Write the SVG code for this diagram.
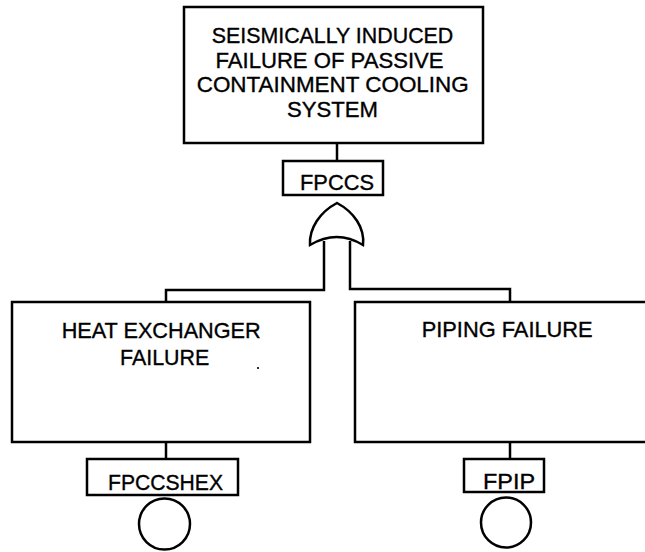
<svg xmlns="http://www.w3.org/2000/svg" width="645" height="552" viewBox="0 0 645 552">
<style>
.box{fill:#fff;stroke:#000;stroke-width:2.5}
.ln{fill:none;stroke:#000;stroke-width:2.5}
.t{font-family:"Liberation Sans",Arial,sans-serif;font-size:22px;fill:#000;stroke:#000;stroke-width:0.35}
</style>
<rect width="645" height="552" fill="#fff"/>
<g id="connectors">
<path class="ln" d="M337,143 V161"/>
<path class="ln" d="M324,241 V290 H166 V302"/>
<path class="ln" d="M350,241 V289 H510 V302"/>
<path class="ln" d="M166,442 V459"/>
<path class="ln" d="M510,442 V459"/>
</g>
<g id="top-event">
<rect class="box" x="184" y="7" width="299" height="136"/>
<text class="t" x="211.7" y="43" textLength="241.6" lengthAdjust="spacingAndGlyphs">SEISMICALLY INDUCED</text>
<text class="t" x="215.5" y="67.5" textLength="228" lengthAdjust="spacingAndGlyphs">FAILURE OF PASSIVE</text>
<text class="t" x="196.7" y="92" textLength="272" lengthAdjust="spacingAndGlyphs">CONTAINMENT COOLING</text>
<text class="t" x="287" y="116.5" textLength="91" lengthAdjust="spacingAndGlyphs">SYSTEM</text>
</g>
<g id="FPCCS">
<rect class="box" x="283" y="161" width="100" height="34"/>
<text class="t" x="300" y="190" textLength="74" lengthAdjust="spacingAndGlyphs">FPCCS</text>
</g>
<g id="or-gate">
<path class="ln" d="M310,245 C309,228 320,212 337,203 C354,212 365,228 363,245 Q337,229 310,245 Z"/>
</g>
<g id="heat-exchanger">
<rect class="box" x="12" y="302" width="298" height="140"/>
<text class="t" x="61.7" y="338.3" textLength="199" lengthAdjust="spacingAndGlyphs">HEAT EXCHANGER</text>
<text class="t" x="120" y="365" textLength="89.3" lengthAdjust="spacingAndGlyphs">FAILURE</text>
<circle cx="258" cy="368" r="1.1" fill="#000"/>
</g>
<g id="piping">
<rect class="box" x="355" y="302" width="306" height="140"/>
<text class="t" x="421.7" y="336.7" textLength="171" lengthAdjust="spacingAndGlyphs">PIPING FAILURE</text>
</g>
<g id="FPCCSHEX">
<rect class="box" x="87" y="459" width="151" height="36"/>
<text class="t" x="108" y="489.5" textLength="115" lengthAdjust="spacingAndGlyphs">FPCCSHEX</text>
<circle class="ln" cx="164.5" cy="524" r="25.5"/>
</g>
<g id="FPIP">
<rect class="box" x="464" y="459" width="80" height="33"/>
<text class="t" x="483" y="488.5" textLength="52" lengthAdjust="spacingAndGlyphs">FPIP</text>
<circle class="ln" cx="506" cy="522.5" r="25"/>
</g>
</svg>
